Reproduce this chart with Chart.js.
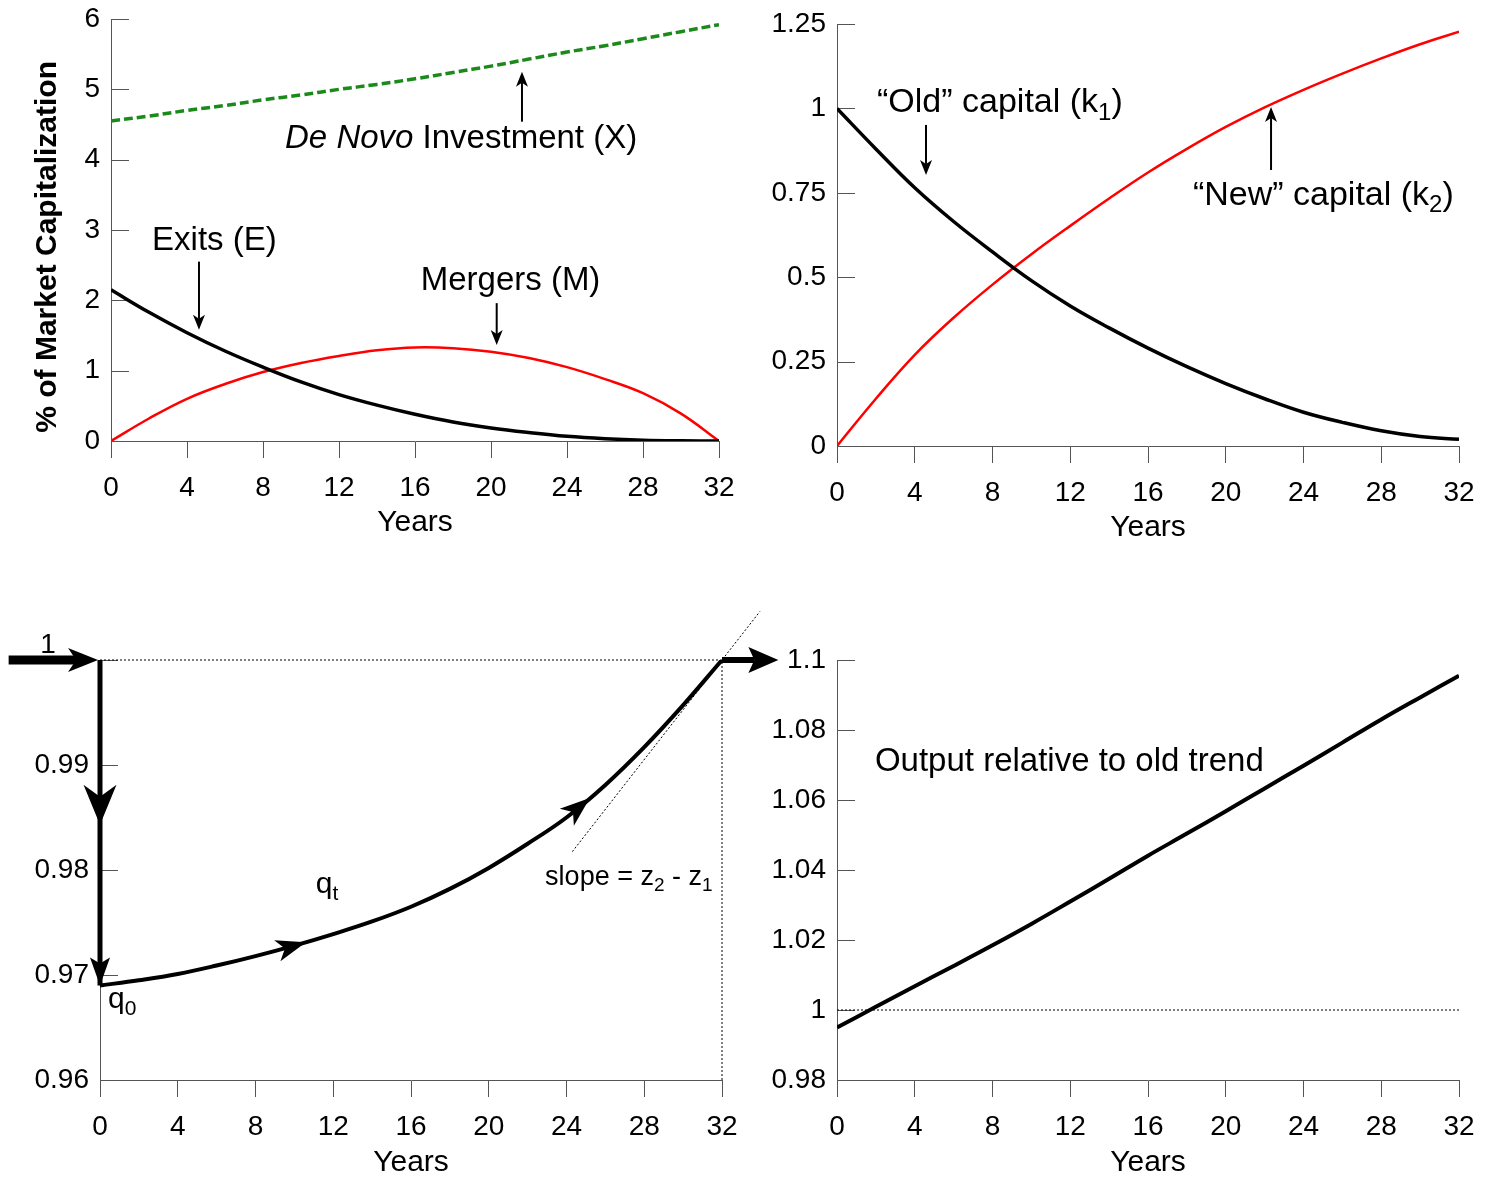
<!DOCTYPE html>
<html><head><meta charset="utf-8">
<script src="https://cdn.jsdelivr.net/npm/chart.js@4.4.1/dist/chart.umd.min.js"></script>
<style>
html,body{margin:0;padding:0;background:#fff;}
body{width:1494px;height:1181px;position:relative;overflow:hidden;}
canvas{position:absolute;}
</style></head><body>
<canvas id="c1" width="750" height="545" style="left:0px;top:0px"></canvas>
<canvas id="c2" width="744" height="550" style="left:750px;top:0px"></canvas>
<canvas id="c3" width="790" height="591" style="left:0px;top:590px"></canvas>
<canvas id="c4" width="734" height="591" style="left:760px;top:590px"></canvas>
<script>
// ---------- data ----------
const years  = [0,2,4,6,8,10,12,14,16,18,20,22,24,26,28,30,32];
const xTicks = [0,4,8,12,16,20,24,28,32];
const xTickLabels = ['0','4','8','12','16','20','24','28','32'];

// panel 1: % of market capitalization
const exits   = [2.15,1.83,1.54,1.28,1.05,0.84,0.66,0.51,0.38,0.27,0.185,0.12,0.067,0.033,0.012,0.003,0];
const mergers = [0,0.32,0.6,0.81,0.98,1.11,1.21,1.29,1.33,1.32,1.27,1.18,1.05,0.88,0.68,0.39,0];
const deNovo  = [4.55,4.62,4.7,4.77,4.85,4.92,5.0,5.07,5.15,5.24,5.33,5.43,5.53,5.62,5.72,5.82,5.92];
const yTicks1 = [0,1,2,3,4,5,6];
const yTickLabels1 = ['0','1','2','3','4','5','6'];

// panel 2: capital stocks
const oldCapital = [1.0,0.88,0.765,0.665,0.575,0.49,0.415,0.35,0.29,0.235,0.185,0.14,0.1,0.07,0.045,0.028,0.02];
const newCapital = [0,0.14,0.27,0.38,0.478,0.568,0.652,0.733,0.81,0.88,0.945,1.003,1.055,1.103,1.148,1.19,1.227];
const yTicks2 = [0,0.25,0.5,0.75,1,1.25];
const yTickLabels2 = ['0','0.25','0.5','0.75','1','1.25'];

// panel 3: q path
const qBefore = 1.0;
const qPath = [0.969,0.9695,0.9701,0.9709,0.9718,0.9728,0.9739,0.9751,0.9765,0.9782,0.9802,0.9825,0.985,0.9881,0.9917,0.9957,1.0];
const tangentSlope = 0.00237;   // z2 - z1
const tangentSpan = [24.3, 33.95];
const yTicks3 = [0.96,0.97,0.98,0.99,1];
const yTickLabels3 = ['0.96','0.97','0.98','0.99',''];

// panel 4: output relative to old trend
const output = [0.995,1.0009,1.0068,1.0126,1.0185,1.0246,1.031,1.0375,1.0441,1.0504,1.0568,1.0633,1.0698,1.0764,1.083,1.0893,1.0955];
const oldTrend = 1;
const yTicks4 = [0.98,1,1.02,1.04,1.06,1.08,1.1];
const yTickLabels4 = ['0.98','1','1.02','1.04','1.06','1.08','1.1'];

// ---------- helpers ----------
const FONT = "'Liberation Sans', Arial, Helvetica, sans-serif";
const AXIS = '#555';
Chart.defaults.font.family = FONT;
Chart.defaults.color = '#000';

const pts = (xs, ys) => xs.map((x, i) => ({x, y: ys[i]}));

function xScale(h, titlePad) {
  return {
    type: 'linear', min: 0, max: 32,
    afterBuildTicks: s => { s.ticks = xTicks.map(v => ({value: v})); },
    afterFit: s => { s.height = h; s.paddingLeft = 0; s.paddingRight = 0; },
    grid: {display: true, drawOnChartArea: false, drawTicks: true, tickLength: 17, color: AXIS, lineWidth: 1},
    border: {display: true, color: AXIS, width: 1},
    ticks: {padding: 13, maxRotation: 0, autoSkip: false, font: {size: 28}, color: '#000',
            callback: (v, i) => xTickLabels[i]},
    title: {display: true, text: 'Years', font: {size: 30}, color: '#000', padding: {top: 0, bottom: titlePad}}
  };
}
function yScale(w, min, max, ticks, labels) {
  return {
    type: 'linear', min, max,
    afterBuildTicks: s => { s.ticks = ticks.map(v => ({value: v})); },
    afterFit: s => { s.width = w; s.paddingTop = 0; s.paddingBottom = 0; },
    grid: {display: false, drawTicks: false},
    border: {display: true, color: AXIS, width: 1},
    ticks: {padding: 11, autoSkip: false, font: {size: 28}, color: '#000',
            callback: (v, i) => labels[i]}
  };
}

// inner y tick marks
const innerTicks = {
  id: 'innerTicks',
  beforeDatasetsDraw(chart) {
    const {ctx, chartArea: a, scales: {y}} = chart;
    ctx.save();
    ctx.strokeStyle = AXIS; ctx.lineWidth = 1;
    y.ticks.forEach(t => {
      const py = Math.round(y.getPixelForValue(t.value)) + 0.5;
      ctx.beginPath(); ctx.moveTo(a.left, py); ctx.lineTo(a.left + 18, py); ctx.stroke();
    });
    ctx.restore();
  }
};

function arrowHead(ctx, tx, ty, ang, len, hw, notch) {
  const c = Math.cos(ang), s = Math.sin(ang);
  const bx = tx - c * len, by = ty - s * len;
  ctx.beginPath();
  ctx.moveTo(tx, ty);
  ctx.lineTo(bx - s * hw, by + c * hw);
  ctx.lineTo(tx - c * (len - notch), ty - s * (len - notch));
  ctx.lineTo(bx + s * hw, by - c * hw);
  ctx.closePath();
  ctx.fill();
}

function drawRuns(ctx, x, y, item) {
  const size = item.size || 33;
  ctx.save();
  ctx.translate(x, y);
  if (item.rotate) ctx.rotate(item.rotate);
  ctx.textBaseline = 'middle';
  ctx.textAlign = 'left';
  ctx.fillStyle = '#000';
  const fontOf = r => {
    const sz = r.sub ? Math.round(size * 0.7) : size;
    return (r.italic ? 'italic ' : '') + (r.bold || item.bold ? 'bold ' : '') + sz + 'px ' + FONT;
  };
  let total = 0;
  item.runs.forEach(r => { ctx.font = fontOf(r); total += ctx.measureText(r.t).width; });
  let cx = item.align === 'center' ? -total / 2 : 0;
  item.runs.forEach(r => {
    ctx.font = fontOf(r);
    ctx.fillText(r.t, cx, r.sub ? size * 0.3 : 0);
    cx += ctx.measureText(r.t).width;
  });
  ctx.restore();
}

// annotation plugin: texts, arrows (data coords), heads along series
const notes = {
  id: 'notes',
  afterDatasetsDraw(chart, args, opts) {
    const {ctx, scales: {x: xs, y: ys}} = chart;
    const X = v => xs.getPixelForValue(v), Y = v => ys.getPixelForValue(v);
    ctx.save();
    ctx.fillStyle = '#000'; ctx.strokeStyle = '#000';
    (opts.arrows || []).forEach(a => {
      const x1 = X(a.from[0]), y1 = Y(a.from[1]), x2 = X(a.to[0]), y2 = Y(a.to[1]);
      const ang = Math.atan2(y2 - y1, x2 - x1);
      const back = a.len - a.notch;
      ctx.lineWidth = a.w; ctx.lineCap = 'butt';
      ctx.beginPath(); ctx.moveTo(x1, y1);
      ctx.lineTo(x2 - Math.cos(ang) * back, y2 - Math.sin(ang) * back); ctx.stroke();
      arrowHead(ctx, x2, y2, ang, a.len, a.hw, a.notch);
    });
    (opts.heads || []).forEach(h => {
      let tx, ty, ang;
      if (h.series) {
        const xsD = h.series.xs, ysD = h.series.ys;
        let i = 0; while (i < xsD.length - 2 && xsD[i + 1] < h.t) i++;
        const f = (h.t - xsD[i]) / (xsD[i + 1] - xsD[i]);
        const px0 = X(xsD[i]), py0 = Y(ysD[i]), px1 = X(xsD[i + 1]), py1 = Y(ysD[i + 1]);
        tx = px0 + (px1 - px0) * f; ty = py0 + (py1 - py0) * f;
        ang = Math.atan2(py1 - py0, px1 - px0);
      } else {
        tx = X(h.x); ty = Y(h.y); ang = h.ang;
      }
      arrowHead(ctx, tx, ty, ang, h.len, h.hw, h.notch);
    });
    (opts.texts || []).forEach(t => drawRuns(ctx, X(t.x), Y(t.y), t));
    ctx.restore();
  }
};

function makeChart(id, datasets, layoutPad, xH, titlePad, yW, yMin, yMax, yT, yL, noteOpts) {
  return new Chart(document.getElementById(id), {
    type: 'line',
    data: {datasets},
    options: {
      responsive: false, animation: false, events: [],
      layout: {padding: layoutPad, autoPadding: false},
      elements: {point: {radius: 0}, line: {tension: 0.4}},
      plugins: {legend: {display: false}, tooltip: {enabled: false}, notes: noteOpts},
      scales: {x: xScale(xH, titlePad), y: yScale(yW, yMin, yMax, yT, yL)}
    },
    plugins: [innerTicks, notes]
  });
}

const smallArrow = {w: 2, len: 15, hw: 6, notch: 4};

// ---------- panel 1 ----------
makeChart('c1', [
  {data: pts(years, exits), borderColor: '#000', borderWidth: 3.5, order: 1},
  {data: pts(years, mergers), borderColor: '#ff0000', borderWidth: 2.5, order: 2},
  {data: pts(years, deNovo), borderColor: '#1b8a1b', borderWidth: 3.5, borderDash: [9, 4], order: 3}
], {left: 0, top: 19, right: 31, bottom: 0}, 104, 4, 111, 0, 6, yTicks1, yTickLabels1, {
  texts: [
    {x: 9.16, y: 4.29, runs: [{t: 'De Novo', italic: true}, {t: ' Investment (X)'}]},
    {x: 2.16, y: 2.84, runs: [{t: 'Exits (E)'}]},
    {x: 16.3, y: 2.275, runs: [{t: 'Mergers (M)'}]},
    {x: -3.32, y: 2.76, rotate: -Math.PI / 2, align: 'center', bold: true, size: 30,
     runs: [{t: '% of Market Capitalization'}]}
  ],
  arrows: [
    Object.assign({from: [21.63, 4.54], to: [21.63, 5.25]}, smallArrow),
    Object.assign({from: [4.63, 2.55], to: [4.63, 1.58]}, smallArrow),
    Object.assign({from: [20.3, 1.96], to: [20.3, 1.365]}, smallArrow)
  ]
});

// ---------- panel 2 ----------
makeChart('c2', [
  {data: pts(years, oldCapital), borderColor: '#000', borderWidth: 3.5, order: 1},
  {data: pts(years, newCapital), borderColor: '#ff0000', borderWidth: 2.5, order: 2}
], {left: 0, top: 24, right: 35, bottom: 0}, 104, 4, 87, 0, 1.25, yTicks2, yTickLabels2, {
  texts: [
    {x: 2.06, y: 1.016, size: 34, runs: [{t: '“Old” capital (k'}, {t: '1', sub: true}, {t: ')'}]},
    {x: 18.31, y: 0.743, size: 34, runs: [{t: '“New” capital (k'}, {t: '2', sub: true}, {t: ')'}]}
  ],
  arrows: [
    Object.assign({from: [4.58, 0.951], to: [4.58, 0.803]}, smallArrow),
    Object.assign({from: [22.33, 0.8175], to: [22.33, 1.004]}, smallArrow)
  ]
});

// ---------- panel 3 ----------
const tangentPts = tangentSpan.map(t => ({x: t, y: qBefore + tangentSlope * (t - 32)}));
makeChart('c3', [
  {data: pts(years, qPath), borderColor: '#000', borderWidth: 4, order: 1},
  {data: [{x: 0, y: qBefore}, {x: 0, y: qPath[0]}], borderColor: '#000', borderWidth: 5, tension: 0, order: 0, clip: false},
  {data: [{x: 0, y: qBefore}, {x: 32, y: qBefore}, {x: 32, y: 0.96}], borderColor: '#000', borderWidth: 1,
   borderDash: [2, 2], tension: 0, order: 5, clip: false},
  {data: tangentPts, borderColor: '#000', borderWidth: 1, borderDash: [2, 2], tension: 0, order: 5, clip: false}
], {left: 0, top: 70, right: 68, bottom: 0}, 101, 0, 100, 0.96, 1.0, yTicks3, yTickLabels3, {
  texts: [
    {x: -2.67, y: 1.0014, size: 28, align: 'center', runs: [{t: '1'}]},
    {x: 11.1, y: 0.97857, size: 30, runs: [{t: 'q'}, {t: 't', sub: true}]},
    {x: 0.41, y: 0.96762, size: 30, runs: [{t: 'q'}, {t: '0', sub: true}]},
    {x: 22.9, y: 0.97924, size: 27, runs: [{t: 'slope = z'}, {t: '2', sub: true}, {t: ' - z'}, {t: '1', sub: true}]}
  ],
  arrows: [
    {from: [-4.7, qBefore], to: [-0.1, qBefore], w: 9, len: 30, hw: 12, notch: 8},
    {from: [32, qBefore], to: [34.9, qBefore], w: 6, len: 30, hw: 13, notch: 6}
  ],
  heads: [
    {x: 0, y: 0.9843, ang: Math.PI / 2, len: 40, hw: 16.5, notch: 12},
    {x: 0, y: qPath[0], ang: Math.PI / 2, len: 28, hw: 10, notch: 6},
    {series: {xs: years, ys: qPath}, t: 10.6, len: 30, hw: 11, notch: 8},
    {series: {xs: years, ys: qPath}, t: 25.2, len: 30, hw: 11, notch: 8}
  ]
});

// ---------- panel 4 ----------
makeChart('c4', [
  {data: pts(years, output), borderColor: '#000', borderWidth: 4, order: 1},
  {data: [{x: 0, y: oldTrend}, {x: 32, y: oldTrend}], borderColor: '#000', borderWidth: 1, borderDash: [2, 2], tension: 0, order: 5}
], {left: 0, top: 70, right: 35, bottom: 0}, 101, 0, 77, 0.98, 1.1, yTicks4, yTickLabels4, {
  texts: [
    {x: 1.95, y: 1.0709, runs: [{t: 'Output relative to old trend'}]}
  ]
});
</script>
</body></html>
